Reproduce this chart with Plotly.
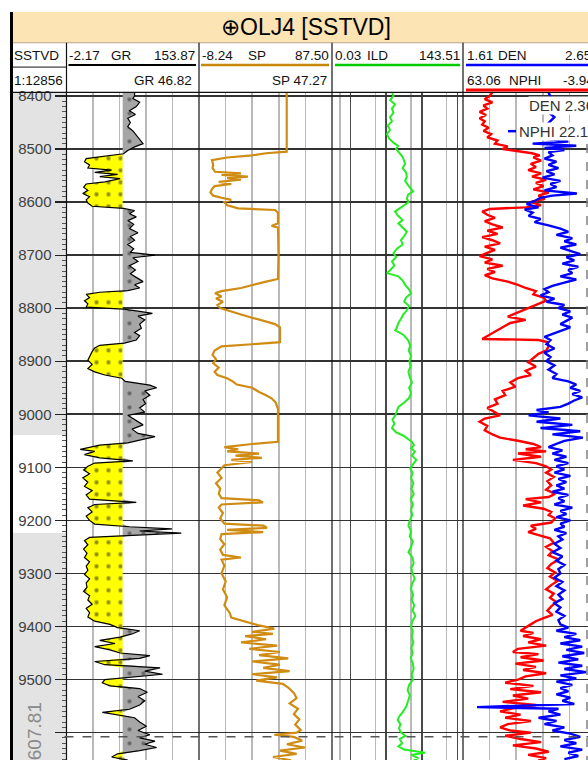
import numpy as np
import plotly.graph_objects as go

W, H = 588, 760
REG = "Liberation Sans, Arial, sans-serif"

# ---------------- header / scale data ----------------
well_name = "OLJ4"
depth_ref = "SSTVD"
scale_text = "1:12856"
depth_top, depth_bottom = 8393.4, 9651.6
depth_ticks = [8400, 8500, 8600, 8700, 8800, 8900, 9000, 9100, 9200, 9300, 9400, 9500, 9600]
depth_tick_text = ["8400", "8500", "8600", "8700", "8800", "8900", "9000", "9100", "9200", "9300", "9400", "9500", ""]
marker_depth = 9607.81
zone_depths = (9039, 9224)

gr_range = (-2.17, 153.87)
gr_cutoff = 64.0
gr_readout = 46.82
sp_range = (-8.24, 87.50)
sp_readout = 47.27
ild_range = (0.03, 143.51)
ild_major = [0.1, 1, 10, 100]
ild_minor = [0.05, 0.5, 5, 50]
den_range = (1.61, 2.65)
den_readout = 2.36
nphi_range = (63.06, -3.94)
nphi_readout = 22.10

# ---------------- log curves (depth, value) ----------------
gr_log = [(8393,78),(8400,78),(8405,76),(8412,84),(8420,80),(8428,72),(8435,79),(8442,70),(8450,73),(8458,70),
(8466,76),(8474,80),(8482,84),(8490,88),(8496,78),(8503,70),(8509,65),(8514,37),(8518,21),(8524,19),(8530,25),
(8536,23),(8540,51),(8544,31),(8548,58),(8552,37),(8556,61),(8562,43),(8566,21),(8572,18),(8578,23),(8584,17),
(8590,25),(8596,21),(8602,23),(8608,28),(8612,65),(8616,78),(8622,72),(8628,80),(8635,70),(8642,77),(8650,72),
(8658,82),(8665,73),(8672,78),(8680,70),(8688,77),(8695,73),(8700,102),(8705,76),(8712,82),(8720,72),(8728,79),
(8735,73),(8742,80),(8750,88),(8756,78),(8762,84),(8767,70),(8770,37),(8774,21),(8780,25),(8786,19),(8792,23),
(8798,21),(8802,65),(8806,84),(8810,99),(8815,82),(8822,90),(8830,84),(8838,86),(8846,78),(8852,84),(8860,80),
(8866,66),(8870,37),(8875,31),(8882,28),(8890,25),(8898,23),(8906,28),(8914,23),(8920,31),(8926,43),(8932,63),
(8938,67),(8945,96),(8950,104),(8956,90),(8964,96),(8972,88),(8980,91),(8988,84),(8996,90),(9002,70),(9010,78),
(9020,88),(9028,75),(9036,82),(9042,102),(9048,84),(9054,70),(9058,37),(9062,25),(9066,14),(9070,31),(9076,19),
(9082,37),(9088,76),(9092,31),(9098,23),(9105,18),(9112,25),(9120,17),(9128,23),(9136,19),(9144,28),(9152,21),
(9160,25),(9166,80),(9170,31),(9176,23),(9184,28),(9192,21),(9200,25),(9207,31),(9212,72),(9216,122),(9220,84),
(9224,133),(9228,72),(9232,25),(9238,19),(9246,23),(9254,18),(9262,22),(9270,19),(9278,25),(9286,21),(9294,23),
(9302,19),(9310,25),(9318,21),(9326,22),(9334,18),(9342,25),(9350,23),(9358,28),(9366,21),(9374,25),(9382,23),
(9390,31),(9396,49),(9402,58),(9408,84),(9414,75),(9420,61),(9426,37),(9432,55),(9438,31),(9444,49),(9450,61),
(9455,96),(9460,84),(9466,31),(9472,43),(9478,108),(9484,90),(9490,111),(9496,72),(9500,43),(9506,40),(9512,49),
(9517,84),(9524,93),(9532,82),(9540,90),(9548,84),(9556,72),(9562,40),(9567,58),(9572,78),(9580,84),(9588,92),
(9596,82),(9604,96),(9610,84),(9616,102),(9622,90),(9628,104),(9634,84),(9640,58),(9646,51),(9652,70)]

sp_log = [(8393,54.9),(8505,54.9),(8508,40),(8512,30),(8516,12),(8521,1.1),(8530,2.0),(8536,1.5),(8543,3.3),
(8546,22),(8549,8),(8552,27),(8555,12),(8558,22),(8562,6),(8566,15),(8570,3),(8576,1.0),(8582,0.0),(8588,2),
(8592,8),(8596,15),(8600,10),(8606,12),(8612,20),(8615,46.5),(8620,48.6),(8640,48.6),(8645,44),(8648,48.6),
(8700,49),(8745,48.6),(8750,40),(8756,30),(8762,22),(8768,8),(8772,3.3),(8778,8),(8782,4),(8788,9),(8794,5),
(8800,7),(8806,14),(8812,22),(8818,30),(8824,38),(8830,46.5),(8836,50.1),(8864,50.1),(8868,30),(8872,8),
(8880,3),(8888,1.5),(8896,4),(8904,2),(8912,6),(8920,3),(8926,5),(8932,12),(8938,16),(8944,19),(8950,30),
(8958,35),(8964,40),(8970,44),(8978,47),(8990,48.6),(9052,48.6),(9056,30),(9062,10),(9066,20),(9070,12),
(9074,35),(9078,18),(9082,37),(9086,15),(9090,30),(9096,10),(9102,8),(9110,5),(9120,8),(9130,4),(9140,7),
(9150,6),(9158,8),(9162,35),(9166,37.8),(9170,8),(9176,6),(9186,9),(9196,7),(9206,10),(9210,38),(9214,40.7),
(9218,12),(9222,38),(9226,8),(9235,7),(9245,10),(9255,7),(9265,9),(9270,22),(9274,8),(9285,10),(9300,8),
(9315,11),(9330,9),(9345,12),(9360,10),(9375,14),(9383,15),(9390,24),(9398,35),(9404,46),(9410,30),(9414,45),
(9418,25),(9424,40),(9430,22),(9436,48),(9442,28),(9448,50),(9454,35),(9460,56),(9466,30),(9472,50),(9478,38),
(9484,57),(9490,30),(9496,48),(9502,33),(9508,52),(9515,56),(9525,60),(9535,62),(9545,57),(9555,63),(9565,60),
(9575,64),(9585,61),(9595,65),(9600,62),(9604,46),(9608,60),(9615,66),(9622,55),(9628,68),(9634,50),(9640,62),
(9646,45),(9652,58)]

ild_log = [(8393,1.45),(8400,1.6),(8408,1.3),(8416,1.77),(8424,1.45),(8432,1.6),(8440,1.28),(8448,1.45),(8456,1.1),
(8464,1.28),(8472,1.05),(8480,1.2),(8488,1.6),(8494,2.15),(8500,1.9),(8508,2.43),(8514,2.8),(8520,3.1),(8528,3.4),
(8536,2.9),(8544,3.6),(8552,3.8),(8560,3.4),(8568,4.1),(8576,5.0),(8580,5.7),(8586,4.1),(8594,3.8),(8600,4.3),
(8606,3.2),(8612,2.4),(8618,1.77),(8626,2.15),(8634,2.9),(8640,2.2),(8648,3.0),(8656,3.8),(8664,3.2),(8672,2.6),
(8680,2.9),(8688,2.0),(8696,1.6),(8704,1.9),(8712,1.45),(8720,1.7),(8728,1.3),(8734,1.05),(8740,2.2),(8748,2.9),
(8756,3.4),(8764,4.3),(8772,5.0),(8780,3.6),(8788,3.2),(8796,4.4),(8804,3.8),(8812,3.0),(8820,2.6),(8828,2.2),
(8836,2.0),(8842,1.8),(8850,3.0),(8860,4.1),(8870,4.7),(8880,4.3),(8890,5.0),(8900,4.5),(8910,4.8),(8920,4.2),
(8930,4.6),(8940,5.3),(8950,4.4),(8960,5.0),(8970,4.3),(8978,3.2),(8986,2.2),(8994,2.0),(9002,1.8),(9010,1.5),
(9018,1.7),(9026,1.45),(9034,1.9),(9040,3.0),(9046,4.1),(9052,5.3),(9058,6.0),(9064,5.0),(9070,6.4),(9078,5.3),
(9086,7.0),(9094,5.6),(9102,4.7),(9110,5.5),(9120,5.0),(9130,5.8),(9140,5.1),(9150,5.9),(9160,4.9),(9170,5.6),
(9180,5.0),(9190,5.4),(9200,4.6),(9210,4.2),(9220,5.0),(9230,4.6),(9240,5.6),(9250,5.0),(9260,4.2),(9270,5.4),
(9280,5.9),(9290,5.1),(9300,5.5),(9310,6.3),(9320,5.3),(9330,5.0),(9340,5.7),(9350,5.2),(9360,6.1),(9370,5.5),
(9380,6.6),(9390,5.4),(9400,5.0),(9410,5.6),(9420,5.2),(9430,5.8),(9440,5.1),(9450,5.5),(9460,4.9),(9470,5.6),
(9480,5.9),(9490,5.2),(9500,5.6),(9510,4.4),(9520,4.0),(9530,4.6),(9540,4.2),(9550,3.7),(9560,3.0),(9570,2.3),
(9576,2.1),(9584,2.5),(9592,2.3),(9600,2.6),(9606,3.5),(9612,2.4),(9620,2.8),(9626,2.2),(9632,3.2),(9638,12.3),
(9642,5.0),(9648,8.0),(9652,6.0)]

den_log = [(8393,1.84),(8400,1.82),(8406,1.78),(8412,1.84),(8418,1.77),(8424,1.80),(8430,1.74),(8436,1.79),
(8442,1.74),(8448,1.78),(8454,1.76),(8460,1.81),(8466,1.77),(8472,1.83),(8478,1.80),(8484,1.88),(8490,1.86),
(8495,1.96),(8500,1.92),(8504,2.02),(8508,2.15),(8512,2.21),(8516,2.16),(8522,2.22),(8528,2.14),(8534,2.18),
(8540,2.12),(8546,2.22),(8552,2.15),(8558,2.26),(8564,2.18),(8570,2.24),(8576,2.16),(8582,2.28),(8588,2.20),
(8594,2.25),(8600,2.14),(8606,2.22),(8610,2.10),(8613,1.82),(8618,1.76),(8624,1.80),(8630,1.86),(8636,1.78),
(8642,1.84),(8648,1.92),(8654,1.80),(8660,1.88),(8666,1.76),(8672,1.84),(8678,1.90),(8684,1.78),(8690,1.86),
(8696,1.80),(8702,1.74),(8708,1.84),(8714,1.78),(8720,1.92),(8726,1.80),(8732,1.86),(8738,1.78),(8744,1.84),
(8750,1.96),(8756,2.04),(8762,2.10),(8768,2.18),(8774,2.16),(8780,2.24),(8786,2.26),(8792,2.20),(8798,2.14),
(8804,2.08),(8810,2.02),(8816,1.96),(8822,2.10),(8828,1.98),(8836,1.92),(8844,1.86),(8852,1.80),(8858,1.76),
(8860,2.20),(8864,2.27),(8872,2.28),(8880,2.26),(8886,2.20),(8894,2.16),(8902,2.12),(8910,2.18),(8918,2.10),
(8926,2.14),(8932,2.04),(8940,1.98),(8948,2.02),(8956,1.92),(8964,1.94),(8972,1.86),(8980,1.88),(8988,1.80),
(8996,1.86),(9002,1.90),(9008,1.78),(9014,1.74),(9022,1.80),(9030,1.78),(9038,1.84),(9044,1.90),(9050,2.04),
(9056,2.16),(9062,2.22),(9066,2.10),(9070,2.26),(9074,2.04),(9080,2.22),(9086,2.00),(9092,2.18),(9098,2.26),
(9104,2.30),(9110,2.26),(9118,2.32),(9126,2.27),(9134,2.30),(9142,2.26),(9150,2.33),(9156,2.28),(9160,2.10),
(9166,2.22),(9172,2.08),(9178,2.24),(9184,2.30),(9190,2.28),(9196,2.33),(9204,2.30),(9210,2.14),(9216,2.18),
(9222,2.12),(9228,2.20),(9234,2.29),(9242,2.32),(9250,2.26),(9258,2.31),(9266,2.28),(9274,2.36),(9282,2.30),
(9290,2.27),(9298,2.33),(9306,2.29),(9314,2.35),(9322,2.30),(9330,2.26),(9338,2.32),(9346,2.29),(9354,2.34),
(9362,2.30),(9370,2.27),(9378,2.31),(9384,2.24),(9390,2.18),(9396,2.14),(9402,2.10),(9408,2.06),(9412,2.16),
(9418,2.08),(9424,2.22),(9430,2.12),(9436,2.26),(9442,2.04),(9448,2.00),(9452,2.20),(9458,2.06),(9464,2.24),
(9470,2.02),(9476,2.18),(9482,2.08),(9488,2.26),(9494,2.10),(9500,2.04),(9506,1.94),(9512,2.16),(9518,1.98),
(9524,2.22),(9530,2.00),(9536,2.12),(9542,1.92),(9548,2.18),(9554,2.00),(9560,1.90),(9566,2.06),(9572,1.94),
(9578,2.14),(9584,1.96),(9590,1.90),(9596,1.98),(9600,2.14),(9606,1.94),(9612,2.06),(9618,2.22),(9624,2.00),
(9630,2.18),(9636,2.28),(9642,2.12),(9648,2.26),(9652,2.20)]

nphi_log = [(8393,20),(8410,18),(8425,22),(8440,17),(8455,21),(8470,19),(8480,23),(8486,10),(8490,28),(8494,6),
(8498,22),(8502,12),(8506,20),(8512,18),(8518,22),(8524,16),(8530,20),(8536,15),(8542,21),(8548,17),(8554,23),
(8560,14),(8566,19),(8572,16),(8578,22),(8584,5.7),(8588,18),(8592,24),(8598,27),(8604,31),(8610,25),(8614,32),
(8620,28),(8626,30),(8632,24),(8638,27),(8644,20),(8650,14),(8656,10),(8662,16),(8668,8),(8674,12),(8680,6),
(8686,14),(8692,9),(8698,4),(8704,11),(8710,7),(8716,13),(8722,5),(8728,10),(8734,8),(8740,14),(8746,6),
(8752,12),(8758,18),(8764,22),(8770,20),(8776,24),(8782,17),(8788,21),(8794,12),(8800,15),(8806,9),(8812,13),
(8818,8),(8824,11),(8830,14),(8836,9),(8842,13),(8848,17),(8854,22),(8860,19),(8868,21),(8876,17),(8884,22),
(8892,19),(8900,21),(8908,17),(8916,20),(8924,16),(8932,18),(8938,10),(8944,6),(8950,9),(8956,4),(8962,8),
(8968,3),(8974,7),(8980,10),(8986,14),(8992,26),(8996,20),(9002,30),(9008,14),(9014,26),(9020,8),(9026,24),
(9032,4),(9038,18),(9044,2.7),(9050,12),(9056,16),(9062,20),(9068,13),(9074,18),(9080,11),(9086,17),(9092,10),
(9098,16),(9104,12),(9110,17),(9116,9),(9122,15),(9128,11),(9134,16),(9140,12),(9146,18),(9152,10),(9158,15),
(9164,12),(9170,17),(9176,8),(9182,14),(9188,11),(9194,16),(9200,9),(9206,14),(9212,12),(9218,17),(9224,11),
(9230,15),(9236,13),(9244,17),(9252,14),(9260,18),(9268,13),(9276,16),(9284,12),(9292,15),(9300,14),(9308,17),
(9316,13),(9324,16),(9332,12),(9340,15),(9348,13),(9356,17),(9364,14),(9372,16),(9380,12),(9388,15),(9396,14),
(9402,10),(9408,16),(9414,6),(9420,12),(9426,4),(9432,14),(9438,3),(9444,11),(9450,2),(9456,13),(9462,5),
(9468,15),(9474,3),(9480,12),(9486,1),(9492,14),(9498,6),(9504,16),(9510,8),(9516,14),(9522,10),(9528,16),
(9534,9),(9540,13),(9546,7),(9552,56),(9555,15),(9560,20),(9566,14),(9572,25),(9578,16),(9584,22),(9590,12),
(9596,18),(9602,9),(9608,4),(9614,12),(9620,6),(9626,14),(9632,3),(9638,10),(9644,5),(9650,12)]

# ---------------- geometry helpers (pixels -> paper) ----------------
def px(x):
    return x / W

def py(y):
    return 1 - y / H

def unpack(pairs):
    d, v = zip(*pairs)
    return np.array(d, float), np.array(v, float)

X_DEPTH0, X_GR0, X_SP0, X_ILD0, X_DEN0, X_DEN1 = 12, 66.5, 199, 332, 463, 596
Y_TITLE0, Y_ROW1, Y_ROW2, Y_PLOT = 7, 38, 62.5, 88
vis = (W - X_DEN0) / (X_DEN1 - X_DEN0)

fig = go.Figure()
skip = dict(hoverinfo="skip", showlegend=False)
clear = dict(width=0, color="rgba(0,0,0,0)")

# ---------------- GR with lithology fill ----------------
grd, grv = unpack(gr_log)
cutline = np.full_like(grv, gr_cutoff)
fig.add_trace(go.Scatter(x=cutline, y=grd, xaxis="x", yaxis="y", mode="lines", line=clear, **skip))
fig.add_trace(go.Scatter(x=np.minimum(grv, gr_cutoff), y=grd, xaxis="x", yaxis="y", mode="lines",
                         line=clear, fill="tonextx", fillcolor="#ffff00",
                         fillpattern=dict(shape=".", bgcolor="#ffff00", fgcolor="#222222", size=12, solidity=0.1),
                         **skip))
fig.add_trace(go.Scatter(x=cutline, y=grd, xaxis="x", yaxis="y", mode="lines", line=clear, **skip))
fig.add_trace(go.Scatter(x=np.maximum(grv, gr_cutoff), y=grd, xaxis="x", yaxis="y", mode="lines",
                         line=clear, fill="tonextx", fillcolor="#a6a6a6",
                         fillpattern=dict(shape=".", bgcolor="#a6a6a6", fgcolor="#222222", size=14, solidity=0.07),
                         **skip))
fig.add_trace(go.Scatter(x=grv, y=grd, xaxis="x", yaxis="y", mode="lines",
                         line=dict(color="#000000", width=1.2), **skip))

# ---------------- SP ----------------
spd, spv = unpack(sp_log)
fig.add_trace(go.Scatter(x=spv, y=spd, xaxis="x2", yaxis="y", mode="lines",
                         line=dict(color="#d08c12", width=2.2), **skip))

# ---------------- ILD ----------------
ildd, ildv = unpack(ild_log)
fig.add_trace(go.Scatter(x=ildv, y=ildd, xaxis="x3", yaxis="y", mode="lines",
                         line=dict(color="#22ee22", width=2), **skip))

# ---------------- DEN / NPHI ----------------
nd, nv = unpack(nphi_log)
fig.add_trace(go.Scatter(x=nv, y=nd, xaxis="x5", yaxis="y", mode="lines",
                         line=dict(color="#0000ff", width=2.4), **skip))
dd, dv = unpack(den_log)
fig.add_trace(go.Scatter(x=dv, y=dd, xaxis="x4", yaxis="y", mode="lines",
                         line=dict(color="#ff0000", width=2.4), **skip))

# ---------------- axes ----------------
GRID_LIGHT = "#b9b9b9"
GRID_DARK = "#333333"
base_x = dict(anchor="y", showticklabels=False, ticks="", zeroline=False, showline=False,
              fixedrange=True, showgrid=True, gridcolor=GRID_LIGHT, gridwidth=1.5)

fig.update_layout(
    xaxis=dict(domain=[px(X_GR0), px(X_SP0)], range=list(gr_range), tickmode="linear",
               tick0=gr_range[0], dtick=(gr_range[1] - gr_range[0]) / 5, **base_x),
    xaxis2=dict(domain=[px(X_SP0), px(X_ILD0)], range=list(sp_range), tickmode="linear",
                tick0=sp_range[0], dtick=(sp_range[1] - sp_range[0]) / 5, **base_x),
    xaxis3=dict(domain=[px(X_ILD0), px(X_DEN0)], type="log",
                range=[np.log10(ild_range[0]), np.log10(ild_range[1])],
                tickmode="array", tickvals=ild_major,
                minor=dict(tickmode="array", tickvals=ild_minor, showgrid=True, gridcolor=GRID_LIGHT,
                           gridwidth=1.5, ticks=""),
                **{**base_x, "gridcolor": "#4a4a4a"}),
    xaxis4=dict(domain=[px(X_DEN0), 1],
                range=[den_range[0], den_range[0] + (den_range[1] - den_range[0]) * vis],
                tickmode="linear", tick0=den_range[0], dtick=(den_range[1] - den_range[0]) / 5, **base_x),
    xaxis5=dict(overlaying="x4", anchor="y", visible=False, fixedrange=True,
                range=[nphi_range[0], nphi_range[0] + (nphi_range[1] - nphi_range[0]) * vis]),
    yaxis=dict(domain=[0, py(Y_PLOT)], range=[depth_bottom, depth_top], anchor="x", side="left",
               tickmode="array", tickvals=depth_ticks, ticktext=depth_tick_text,
               ticks="outside", ticklen=11, tickwidth=1.2,
               tickcolor="#222222", showgrid=True, gridcolor=GRID_DARK, gridwidth=1.6,
               zeroline=False, showline=False, fixedrange=True,
               tickfont=dict(family=REG, size=15, color="#404040"),
               minor=dict(tickmode="linear", tick0=0, dtick=10, ticks="outside", ticklen=4,
                          tickcolor="#555555", tickwidth=1, showgrid=False)),
)

# ---------------- shapes ----------------
shapes = []

def rect_px(x0, y0, x1, y1, fill, layer="below"):
    shapes.append(dict(type="rect", xref="paper", yref="paper", x0=px(x0), x1=px(x1), y0=py(y1), y1=py(y0),
                       fillcolor=fill, line=dict(width=0), layer=layer))

def line_px(x0, y0, x1, y1, color, width=1.0, dash="solid", layer="above"):
    shapes.append(dict(type="line", xref="paper", yref="paper", x0=px(x0), x1=px(x1), y0=py(y0), y1=py(y1),
                       line=dict(color=color, width=width, dash=dash), layer=layer))

# depth column background and white zone
rect_px(X_DEPTH0 + 1, Y_PLOT, X_GR0, H, "#e3e3e3")
shapes.append(dict(type="rect", xref="paper", yref="y", x0=px(X_DEPTH0 + 1), x1=px(X_GR0),
                   y0=zone_depths[0], y1=zone_depths[1], fillcolor="#ffffff", line=dict(width=0), layer="below"))
# title bar
rect_px(X_DEPTH0, Y_TITLE0, W, Y_ROW1, "#fce4b4")
line_px(X_DEPTH0, Y_ROW1, W, Y_ROW1, "#b8a888", 1)
# borders
line_px(X_DEPTH0 - 0.5, Y_TITLE0, X_DEPTH0 - 0.5, H, "#000000", 3)
for xs in (X_GR0, X_SP0, X_ILD0, X_DEN0):
    line_px(xs, Y_ROW1, xs, H, "#111111", 1.2)
line_px(X_DEPTH0, Y_PLOT, W, Y_PLOT, "#111111", 1.2)
line_px(X_DEPTH0, Y_ROW2, X_GR0, Y_ROW2, "#111111", 1)
# curve header underlines
line_px(X_GR0 + 2, 60.5, X_SP0 - 3, 60.5, "#000000", 2)
line_px(X_SP0 + 2, 60.5, X_ILD0 - 3, 60.5, "#c8860a", 2.5)
line_px(X_ILD0 + 3, 60.5, X_DEN0 - 3, 60.5, "#00cc00", 2.5)
line_px(X_DEN0 + 3, 60.5, W, 60.5, "#0000ff", 2.5)
line_px(X_DEN0 + 3, 85.5, W, 85.5, "#ff0000", 3)
# marker depth dashed line
shapes.append(dict(type="line", xref="paper", yref="y", x0=px(X_GR0 - 2), x1=1, y0=marker_depth, y1=marker_depth,
                   line=dict(color="#555555", width=1.5, dash="dash"), layer="above"))
# dashed right edge line
line_px(587, 140, 587, H, "#808080", 1.5, dash="dash")
# legend dash for NPHI
line_px(508, 127, 516, 127, "#0000ff", 2.5)

fig.update_layout(shapes=shapes)

# ---------------- annotations ----------------
ann = []
HS = 13.5

def text_px(x, y, s, anchor="left", size=HS, color="#111111", family=REG, bg=None):
    d = dict(xref="paper", yref="paper", x=px(x), y=py(y), text=s, showarrow=False, xanchor=anchor,
             yanchor="middle", font=dict(family=family, size=size, color=color), borderpad=0)
    if bg:
        d["bgcolor"] = bg
    ann.append(d)

text_px(306, 22, "\u2295" + f"{well_name} [{depth_ref}]", "center", size=23, color="#000000")
text_px(12.5, 51, depth_ref, "left")
text_px(12.5, 76, scale_text, "left")
# GR
text_px(67.5, 51, f"{gr_range[0]:.2f}", "left")
text_px(121, 51, "GR", "center")
text_px(196, 51, f"{gr_range[1]:.2f}", "right")
text_px(193, 76, f"GR {gr_readout:.2f}", "right")
# SP
text_px(200.5, 51, f"{sp_range[0]:.2f}", "left")
text_px(257, 51, "SP", "center")
text_px(330, 51, f"{sp_range[1]:.2f}", "right")
text_px(328, 76, f"SP {sp_readout:.2f}", "right")
# ILD
text_px(333.5, 51, f"{ild_range[0]:.2f}", "left")
text_px(377, 51, "ILD", "center")
text_px(461, 51, f"{ild_range[1]:.2f}", "right")
# DEN / NPHI
text_px(466, 51, f"{den_range[0]:.2f}", "left")
text_px(512, 51, "DEN", "center")
text_px(564, 51, f"{den_range[1]:.2f}", "left")
text_px(466, 76, f"{nphi_range[0]:.2f}", "left")
text_px(525, 76, "NPHI", "center")
text_px(562, 76, f"{nphi_range[1]:.2f}", "left")
# in-track readouts
text_px(528, 101, f"DEN {den_readout:.2f}", "left", size=15, color="#333333", bg="#ffffff")
text_px(518, 127, f"NPHI {nphi_readout:.2f}", "left", size=15, color="#333333", bg="#ffffff")
# marker depth label (rotated)
ann.append(dict(xref="paper", yref="y", x=px(35), y=marker_depth, text=f"{marker_depth:.2f}",
                showarrow=False, xanchor="center", yanchor="middle", textangle=-90,
                font=dict(family=REG, size=19, color="#8a8a8a")))

fig.update_layout(annotations=ann)

fig.update_layout(width=W, height=H, autosize=False, margin=dict(l=0, r=0, t=0, b=0),
                  paper_bgcolor="#ffffff", plot_bgcolor="#ffffff", showlegend=False)

fig.write_html("out.html", include_plotlyjs=True, full_html=True,
               config={"displayModeBar": False, "staticPlot": True})
